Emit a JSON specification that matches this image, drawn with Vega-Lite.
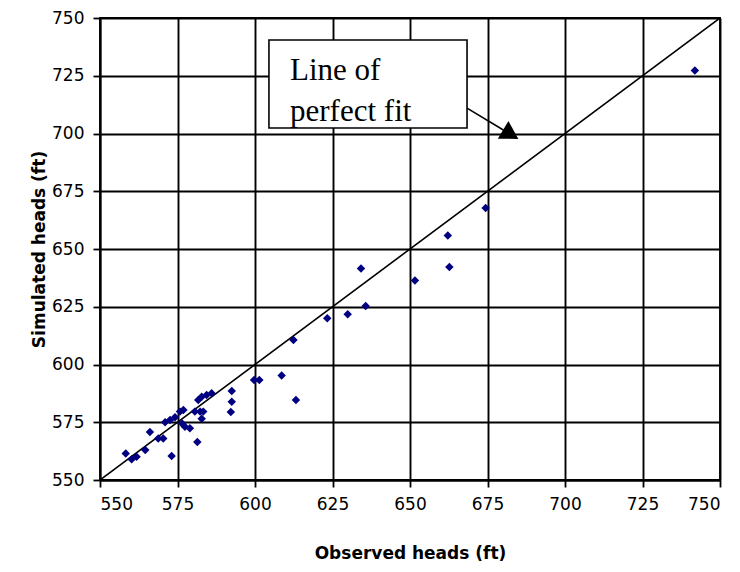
{
  "$schema": "https://vega.github.io/schema/vega-lite/v6.json",
  "width": 620,
  "height": 462,
  "autosize": {"type": "none"},
  "padding": {"left": 100, "top": 18, "right": 20, "bottom": 92},
  "background": "white",
  "config": {
    "view": {"stroke": "#000", "strokeWidth": 1.8},
    "axis": {
      "labelFont": "DejaVu Sans",
      "labelFontSize": 17,
      "labelColor": "#000",
      "titleFont": "DejaVu Sans",
      "titleFontSize": 17,
      "titleFontWeight": "bold",
      "titleColor": "#000",
      "domainColor": "#000",
      "domainWidth": 1.8,
      "tickColor": "#000",
      "tickWidth": 1.8,
      "tickSize": 7,
      "gridColor": "#000",
      "gridWidth": 1.9,
      "gridOpacity": 1,
      "labelPadding": 9
    }
  },
  "datasets": {
    "points": [
      {"observed": 558.3, "simulated": 561.5},
      {"observed": 560.2, "simulated": 559.0},
      {"observed": 561.8, "simulated": 560.1},
      {"observed": 564.6, "simulated": 563.0},
      {"observed": 566.1, "simulated": 570.8},
      {"observed": 568.8, "simulated": 568.0},
      {"observed": 570.4, "simulated": 568.0},
      {"observed": 571.0, "simulated": 575.0},
      {"observed": 572.6, "simulated": 576.0},
      {"observed": 573.1, "simulated": 560.4},
      {"observed": 574.2, "simulated": 577.2},
      {"observed": 575.8, "simulated": 579.6},
      {"observed": 576.9, "simulated": 580.3},
      {"observed": 577.4, "simulated": 573.1},
      {"observed": 576.5, "simulated": 574.5},
      {"observed": 579.0, "simulated": 572.4},
      {"observed": 581.4, "simulated": 566.5},
      {"observed": 580.6, "simulated": 579.6},
      {"observed": 582.3, "simulated": 579.6},
      {"observed": 583.3, "simulated": 579.6},
      {"observed": 582.8, "simulated": 576.5},
      {"observed": 581.7, "simulated": 584.6},
      {"observed": 582.8, "simulated": 586.0},
      {"observed": 584.4, "simulated": 586.8},
      {"observed": 586.0, "simulated": 587.6},
      {"observed": 592.5, "simulated": 588.5},
      {"observed": 592.5, "simulated": 583.9},
      {"observed": 592.2, "simulated": 579.4},
      {"observed": 599.7, "simulated": 593.3},
      {"observed": 601.4, "simulated": 593.3},
      {"observed": 608.6, "simulated": 595.2},
      {"observed": 612.4, "simulated": 610.6},
      {"observed": 613.2, "simulated": 584.6},
      {"observed": 623.3, "simulated": 620.0},
      {"observed": 629.9, "simulated": 621.8},
      {"observed": 634.2, "simulated": 641.6},
      {"observed": 635.7, "simulated": 625.3},
      {"observed": 651.6, "simulated": 636.4},
      {"observed": 662.2, "simulated": 655.8},
      {"observed": 662.7, "simulated": 642.2},
      {"observed": 674.4, "simulated": 667.8},
      {"observed": 741.9, "simulated": 727.3}
    ],
    "fit": [
      {"observed": 550, "simulated": 550},
      {"observed": 750, "simulated": 750}
    ],
    "box": [
      {"x1": 604.5, "x2": 668.4, "y1": 702.4, "y2": 740.5}
    ],
    "labels": [
      {"label": "Line of", "x": 611.3, "y": 723.2},
      {"label": "perfect fit", "x": 611.3, "y": 705.6}
    ],
    "arrow": [
      {"x": 668.4, "y": 711.0},
      {"x": 682.5, "y": 699.6}
    ],
    "head": [
      {"x": 682.5, "y": 699.6}
    ]
  },
  "layer": [
    {
      "data": {"name": "fit"},
      "mark": {"type": "line", "color": "#000", "strokeWidth": 1.6, "clip": true},
      "encoding": {
        "x": {
          "field": "observed", "type": "quantitative",
          "scale": {"domain": [550, 750], "nice": false, "zero": false},
          "axis": {
            "title": "Observed heads (ft)",
            "values": [550, 575, 600, 625, 650, 675, 700, 725, 750],
            "titlePadding": 33
          }
        },
        "y": {
          "field": "simulated", "type": "quantitative",
          "scale": {"domain": [550, 750], "nice": false, "zero": false},
          "axis": {
            "title": "Simulated heads (ft)",
            "values": [550, 575, 600, 625, 650, 675, 700, 725, 750],
            "titlePadding": 3
          }
        }
      }
    },
    {
      "data": {"name": "points"},
      "mark": {"type": "point", "shape": "diamond", "filled": true, "color": "#000080", "size": 72, "opacity": 1},
      "encoding": {
        "x": {"field": "observed", "type": "quantitative"},
        "y": {"field": "simulated", "type": "quantitative"}
      }
    },
    {
      "data": {"name": "box"},
      "mark": {"type": "rect", "fill": "white", "stroke": "#000", "strokeWidth": 1.6},
      "encoding": {
        "x": {"field": "x1", "type": "quantitative"},
        "x2": {"field": "x2"},
        "y": {"field": "y1", "type": "quantitative"},
        "y2": {"field": "y2"}
      }
    },
    {
      "data": {"name": "labels"},
      "mark": {"type": "text", "font": "Liberation Serif", "fontSize": 31, "align": "left", "baseline": "alphabetic", "color": "#000"},
      "encoding": {
        "x": {"field": "x", "type": "quantitative"},
        "y": {"field": "y", "type": "quantitative"},
        "text": {"field": "label"}
      }
    },
    {
      "data": {"name": "arrow"},
      "mark": {"type": "line", "color": "#000", "strokeWidth": 1.6},
      "encoding": {
        "x": {"field": "x", "type": "quantitative"},
        "y": {"field": "y", "type": "quantitative"}
      }
    },
    {
      "data": {"name": "head"},
      "mark": {"type": "point", "shape": "triangle-up", "filled": true, "color": "#000", "size": 420, "angle": 121, "opacity": 1},
      "encoding": {
        "x": {"field": "x", "type": "quantitative"},
        "y": {"field": "y", "type": "quantitative"}
      }
    }
  ]
}
